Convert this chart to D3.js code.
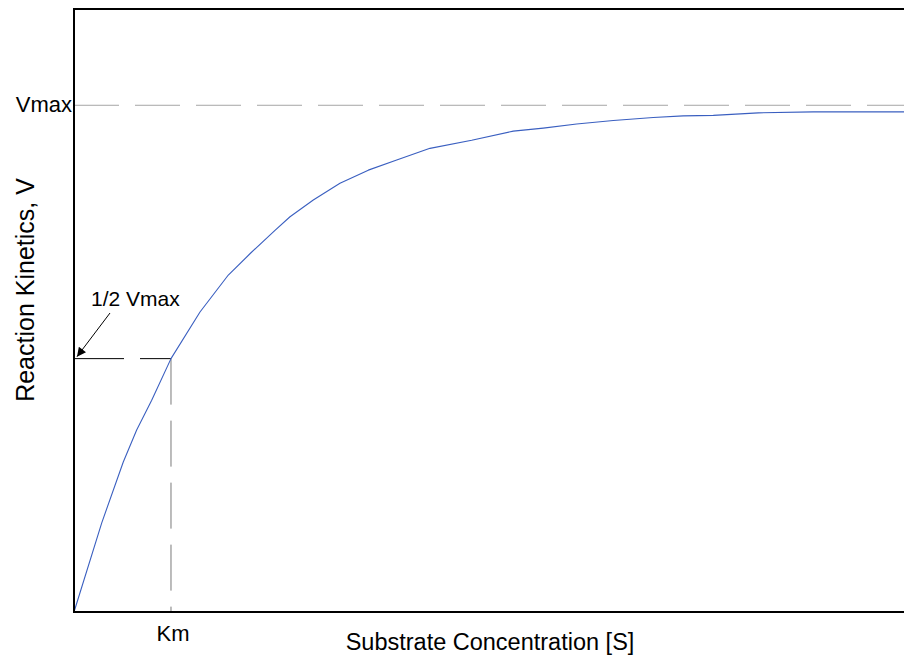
<!DOCTYPE html>
<html>
<head>
<meta charset="utf-8">
<script src="https://cdn.jsdelivr.net/npm/d3@7"></script>
<style>
  body { margin: 0; background: #fff; }
  text { font-family: "Liberation Sans", Arial, sans-serif; fill: #000; }
</style>
</head>
<body>
<div id="chart"></div>
<script>
;(function () {

    // substrate concentration (in units of Km) and rate (in units of Vmax)
    var substrate = [0, 0.286, 0.508, 0.646, 0.801, 1.0, 1.299, 1.591, 1.814, 2.072,
        2.227, 2.467, 2.742, 3.034, 3.327, 3.670, 4.100, 4.529, 4.838, 5.182,
        5.560, 5.972, 6.281, 6.591, 7.055, 7.622, 8.557];
    var rate = [0, 0.176, 0.296, 0.359, 0.418, 0.5, 0.592, 0.665, 0.707, 0.753,
        0.780, 0.813, 0.846, 0.872, 0.892, 0.915, 0.931, 0.949, 0.955, 0.963,
        0.970, 0.976, 0.979, 0.980, 0.985, 0.987, 0.987];

    var vmax = 1
        , km = 1
        , xLabel = 'Substrate Concentration [S]'
        , yLabel = 'Reaction Kinetics, V';

    var width = 904
        , height = 656
        , left = 74
        , top = 9
        , right = 904
        , bottom = 612;

    var x = d3.scaleLinear().domain([0, 8.557]).range([left, right]);
    var y = d3.scaleLinear().domain([0, 1.19]).range([bottom, top]);

    var svg = d3.select('#chart').append('svg')
        .attr('width', width)
        .attr('height', height);

    svg.append('defs').append('marker')
        .attr('id', 'arrow')
        .attr('viewBox', '0 0 10 10')
        .attr('refX', 10)
        .attr('refY', 5)
        .attr('markerWidth', 11)
        .attr('markerHeight', 9)
        .attr('markerUnits', 'userSpaceOnUse')
        .attr('orient', 'auto')
        .append('path')
        .attr('d', 'M0,0 L10,5 L0,10 z')
        .attr('fill', '#000');

    // Vmax guide
    svg.append('line')
        .attr('x1', x(0)).attr('x2', right + 2)
        .attr('y1', y(vmax)).attr('y2', y(vmax))
        .attr('stroke', '#a6a6a6')
        .attr('stroke-width', 1)
        .attr('stroke-dasharray', '45,16');

    // 1/2 Vmax guide
    svg.append('line')
        .attr('x1', x(0)).attr('x2', x(km))
        .attr('y1', y(vmax / 2)).attr('y2', y(vmax / 2))
        .attr('stroke', '#000')
        .attr('stroke-width', 1)
        .attr('stroke-dasharray', '50,16');

    // Km guide
    svg.append('line')
        .attr('x1', x(km)).attr('x2', x(km))
        .attr('y1', y(vmax / 2)).attr('y2', y(0))
        .attr('stroke', '#7a7a7a')
        .attr('stroke-width', 1)
        .attr('stroke-dasharray', '46,16');

    var line = d3.line()
        .x(function (d) { return x(d[0]); })
        .y(function (d) { return y(d[1]); });

    svg.append('path')
        .datum(d3.zip(substrate, rate))
        .attr('fill', 'none')
        .attr('stroke', '#3a5fc0')
        .attr('stroke-width', 1.1)
        .attr('stroke-linejoin', 'round')
        .attr('d', line);

    // frame: left, top and bottom edges
    svg.append('path')
        .attr('d', 'M' + (right + 2) + ',' + top + 'H' + left + 'V' + bottom + 'H' + (right + 2))
        .attr('fill', 'none')
        .attr('stroke', '#000')
        .attr('stroke-width', 2);

    // labels
    svg.append('text')
        .attr('x', left - 2)
        .attr('y', y(vmax))
        .attr('dy', '0.3em')
        .attr('text-anchor', 'end')
        .style('font-size', '22px')
        .text('Vmax');

    svg.append('text')
        .attr('x', x(km) + 2)
        .attr('y', 641)
        .attr('text-anchor', 'middle')
        .style('font-size', '22px')
        .text('Km');

    svg.append('text')
        .attr('x', 490)
        .attr('y', 650)
        .attr('text-anchor', 'middle')
        .style('font-size', '23.5px')
        .text(xLabel);

    svg.append('text')
        .attr('transform', 'translate(34,' + 290 + ') rotate(-90)')
        .attr('text-anchor', 'middle')
        .style('font-size', '25px')
        .text(yLabel);

    svg.append('text')
        .attr('x', 91)
        .attr('y', 306)
        .style('font-size', '21px')
        .text('1/2 Vmax');

    svg.append('line')
        .attr('x1', 110).attr('y1', 313)
        .attr('x2', x(0) + 3).attr('y2', y(vmax / 2) - 2)
        .attr('stroke', '#000')
        .attr('stroke-width', 1)
        .attr('marker-end', 'url(#arrow)');

}());
</script>
</body>
</html>
